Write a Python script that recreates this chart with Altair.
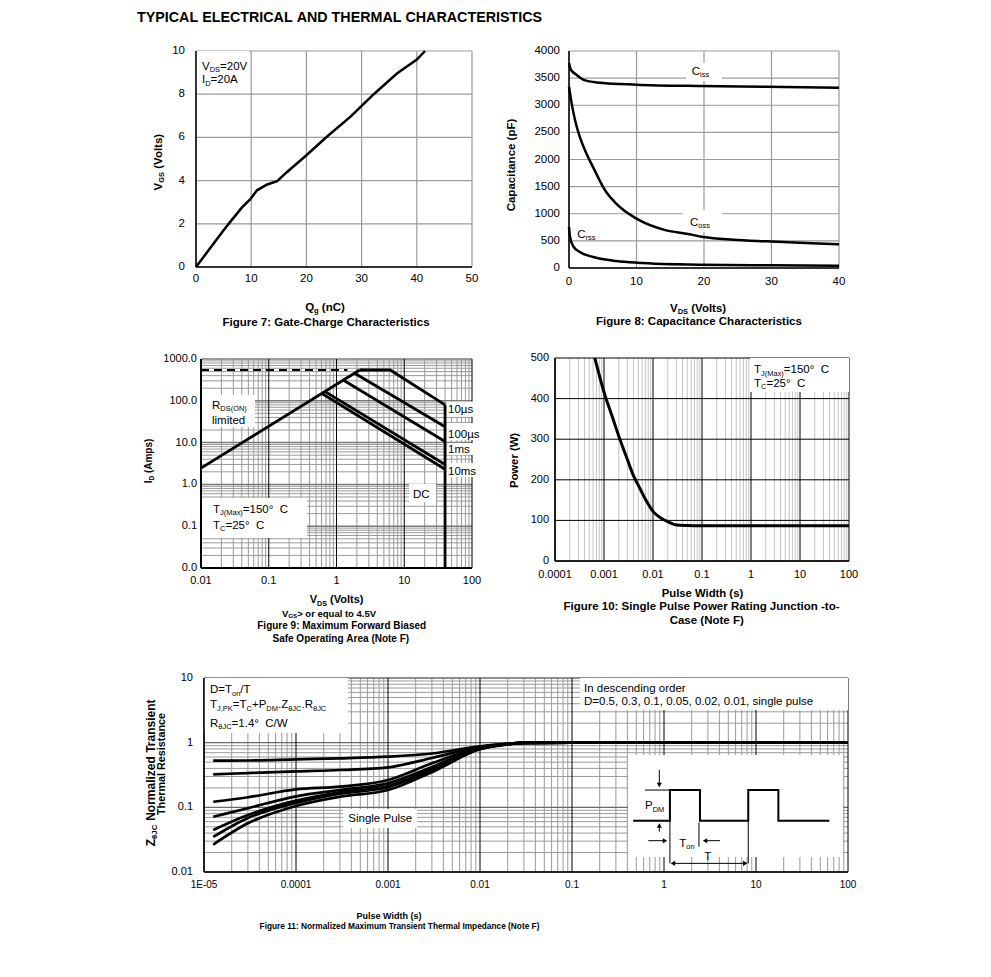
import re
import altair as alt
import pandas as pd

FONT = "Liberation Sans"
G = 8  # page margin: drawing origin is at page (8, 8)

# ---------------- Figure 7: gate charge ----------------
qg_nc = [0, 5.0, 6.2, 8.3, 9.84, 11.05, 12.9, 14.7, 16.5, 19.9, 23.7, 28.0, 32.2, 36.4, 40.0, 41.5]
vgs_v = [0, 1.7, 2.09, 2.75, 3.14, 3.55, 3.82, 3.97, 4.4, 5.15, 6.03, 6.96, 8.0, 8.96, 9.6, 10.0]
fig7_x_ticks = [0, 10, 20, 30, 40, 50]
fig7_y_ticks = [0, 2, 4, 6, 8, 10]

# ---------------- Figure 8: capacitance ----------------
ciss_vds = [0, 0.2, 0.5, 0.9, 2.1, 3, 4.6, 10, 19.4, 29.2, 40]
ciss_pf = [3780, 3680, 3620, 3582, 3471, 3440, 3416, 3380, 3355, 3342, 3324]
coss_vds = [0, 0.2, 0.4, 0.9, 1.6, 2.6, 3.6, 4.6, 5.1, 7, 10, 14.4, 17.4, 19.9, 24.3, 29.2, 35, 40]
coss_pf = [3340, 3180, 3030, 2722, 2415, 2107, 1850, 1600, 1480, 1186, 909, 694, 633, 571, 522, 491, 460, 436]
crss_vds = [0, 0.15, 0.64, 1.6, 3.6, 7, 10, 19.4, 30, 40]
crss_pf = [756, 571, 400, 295, 203, 129, 98, 61, 50, 43]
fig8_x_ticks = [0, 10, 20, 30, 40]
fig8_y_ticks = [0, 500, 1000, 1500, 2000, 2500, 3000, 3500, 4000]

# ---------------- Figure 9: safe operating area ----------------
rds_v, rds_i = [0.01, 2.2], [2.45, 546]
us10_v, us10_i = [2.2, 6.2, 40], [546, 546, 80]
us100_v, us100_i = [1.85, 40], [455, 24]
ms1_v, ms1_i = [1.27, 40], [311, 10.6]
ms10_v, ms10_i = [0.68, 40], [166, 3.0]
dc_v, dc_i = [0.61, 40], [149, 2.3]
vmax_v, vmax_i = [40, 40], [80, 0.01]
pkg_v, pkg_i = [0.01, 1.45], [546, 546]
fig9_x_major = [0.01, 0.1, 1, 10, 100]
fig9_x_labels = ["0.01", "0.1", "1", "10", "100"]
fig9_y_major = [0.01, 0.1, 1, 10, 100, 1000]
fig9_y_labels = ["0.0", "0.1", "1.0", "10.0", "100.0", "1000.0"]

# ---------------- Figure 10: single pulse power ----------------
pw_s = [0.00065, 0.001, 0.0015, 0.00212, 0.003, 0.00397, 0.005, 0.007, 0.0102, 0.015, 0.02, 0.0304, 0.05, 0.1, 1, 10, 100]
power_w = [500, 416, 353, 299, 250, 211, 187, 152, 121, 104.6, 96.9, 88.5, 87.5, 87, 87, 87, 87]
fig10_x_major = [0.0001, 0.001, 0.01, 0.1, 1, 10, 100]
fig10_x_labels = ["0.0001", "0.001", "0.01", "0.1", "1", "10", "100"]
fig10_y_ticks = [0, 100, 200, 300, 400, 500]

# ---------------- Figure 11: transient thermal impedance ----------------
zt_s = [1.26e-5, 3e-5, 1e-4, 3e-4, 1e-3, 3e-3, 1e-2, 2e-2, 3e-2, 1e-1, 1, 10, 100]
z_d05 = [0.526, 0.53, 0.553, 0.573, 0.608, 0.68, 0.88, 0.97, 0.995, 1, 1, 1, 1]
z_d03 = [0.324, 0.339, 0.36, 0.378, 0.416, 0.58, 0.86, 0.96, 0.995, 1, 1, 1, 1]
z_d01 = [0.122, 0.143, 0.19, 0.209, 0.265, 0.48, 0.84, 0.96, 0.99, 1, 1, 1, 1]
z_d005 = [0.0716, 0.097, 0.148, 0.185, 0.235, 0.42, 0.82, 0.95, 0.99, 1, 1, 1, 1]
z_d002 = [0.0446, 0.076, 0.127, 0.171, 0.214, 0.39, 0.81, 0.95, 0.99, 1, 1, 1, 1]
z_d001 = [0.035, 0.0685, 0.117, 0.163, 0.205, 0.37, 0.80, 0.95, 0.99, 1, 1, 1, 1]
z_single = [0.0266, 0.0566, 0.105, 0.146, 0.185, 0.35, 0.79, 0.94, 0.99, 1, 1, 1, 1]
fig11_x_major = [1e-5, 1e-4, 1e-3, 1e-2, 1e-1, 1, 10, 100]
fig11_x_labels = ["1E-05", "0.0001", "0.001", "0.01", "0.1", "1", "10", "100"]
fig11_y_major = [0.01, 0.1, 1, 10]
fig11_y_labels = ["0.01", "0.1", "1", "10"]
# inset pulse sketch (in axis units: seconds, normalized Z)
wave_s = [0.463, 1.16, 1.16, 2.46, 2.46, 8.24, 8.24, 17.5, 17.5, 62.7]
wave_z = [0.0621, 0.0621, 0.185, 0.185, 0.0621, 0.0621, 0.185, 0.185, 0.0621, 0.0621]
thin_s = [[0.621, 1.16], [1.16, 1.16], [2.40, 2.40], [8.24, 8.24], [0.889, 0.889], [0.889, 0.889],
          [0.676, 1.026], [4.06, 2.79], [1.25, 7.64]]
thin_z = [[0.185, 0.185], [0.0621, 0.0136], [0.058, 0.0246], [0.0621, 0.0136], [0.378, 0.221], [0.042, 0.0524],
          [0.0305, 0.0305], [0.0305, 0.0305], [0.0136, 0.0136]]
head_s = [0.889, 0.889, 1.026, 2.79, 1.25, 7.64]
head_z = [0.221, 0.0524, 0.0305, 0.0305, 0.0136, 0.0136]
head_shape = ["triangle-down", "triangle-up", "triangle-right", "triangle-left", "triangle-left", "triangle-right"]


def decades(lo, hi):
    return [k * 10.0 ** e for e in range(lo, hi) for k in range(2, 10)]


# ---------------- text helpers (Arial / Liberation metrics) ----------------
UP = "ABCDEFGHIJKLMNOPQRSTUVWXYZ"
LO = "abcdefghijklmnopqrstuvwxyz"
REG = dict(zip(UP, [667, 667, 722, 722, 667, 611, 778, 722, 278, 500, 667, 556, 833, 722, 778, 667, 778, 722, 667, 611, 722, 667, 944, 667, 667, 611]))
REG.update(zip(LO, [556, 556, 500, 556, 556, 278, 556, 556, 222, 222, 500, 222, 833, 556, 556, 556, 556, 333, 500, 278, 556, 500, 722, 500, 500, 500]))
REG.update({' ': 278, '(': 333, ')': 333, '+': 584, ',': 278, '-': 333, '.': 278, '/': 278, ':': 278,
            '=': 584, '>': 584, '°': 400, 'θ': 556, 'µ': 576})
BOLD = dict(zip(UP, [722, 722, 722, 722, 667, 611, 778, 722, 278, 556, 722, 611, 833, 722, 778, 667, 778, 722, 667, 611, 722, 667, 944, 667, 667, 611]))
BOLD.update(zip(LO, [556, 611, 556, 611, 556, 333, 611, 611, 278, 278, 556, 278, 889, 611, 611, 611, 611, 389, 556, 333, 611, 556, 778, 556, 556, 500]))
BOLD.update({' ': 278, '(': 333, ')': 333, '+': 584, ',': 278, '-': 333, '.': 278, '/': 278, ':': 333,
             '=': 584, '>': 584, '°': 400, 'θ': 611, 'µ': 611})


def tw(s, size, bold):
    tab = BOLD if bold else REG
    return sum(tab.get(c, 556) for c in s) * size / 1000.0


def parse(s):
    out = []
    for m in re.finditer(r'_\{([^}]*)\}|([^_]+)', s):
        if m.group(1) is not None:
            out.append((m.group(1), True))
        else:
            out.append((m.group(2), False))
    return out


TEXT_ROWS = []


def rich(markup, x, y, size, bold=False, angle=0, anchor="start", subshift=0.2):
    specs = []
    for txt, sub in parse(markup):
        fs = size * 0.65 if sub else size
        core = txt.strip(" ")
        lead = len(txt) - len(txt.lstrip(" "))
        trail = len(txt) - len(txt.rstrip(" "))
        specs.append((core.replace(" ", "\u00a0"), fs, size * subshift if sub else 0.0,
                      tw(" " * lead, fs, bold), tw(core, fs, bold), tw(" " * trail, fs, bold)))
    total = sum(s[3] + s[4] + s[5] for s in specs)
    off = {"start": 0.0, "middle": -total / 2.0, "end": -total}[anchor]
    for core, fs, shift, lw, cw, trw in specs:
        off += lw
        if core:
            if angle == 0:
                px, py = x + off, y + shift
            else:
                px, py = x + shift, y - off
            TEXT_ROWS.append(dict(x=round(px - G, 2), y=round(py - G, 2), text=core, size=round(fs, 2),
                                  bold=bold, angle=angle))
        off += cw + trw


def text_layers():
    combos = []
    for r in TEXT_ROWS:
        k = (r["bold"], r["angle"])
        if k not in combos:
            combos.append(k)
    out = []
    for b, a in combos:
        sub = [dict(x=r["x"], y=r["y"], text=r["text"], size=r["size"]) for r in TEXT_ROWS
               if (r["bold"], r["angle"]) == (b, a)]
        out.append(alt.Chart(pd.DataFrame(sub)).mark_text(
            align="left", baseline="alphabetic", font=FONT, fontWeight="bold" if b else "normal",
            angle=int(a), color="black").encode(
            x=alt.X("x:Q", scale=None, axis=None),
            y=alt.Y("y:Q", scale=None, axis=None),
            text="text:N",
            size=alt.Size("size:Q", scale=None, legend=None)))
    return out


def boxes(bxs):
    df = pd.DataFrame([dict(x0=b[0] - G, x1=b[1] - G, y0=b[2] - G, y1=b[3] - G) for b in bxs])
    return alt.Chart(df).mark_rect(color="white").encode(
        x=alt.X("x0:Q", scale=None, axis=None), x2="x1:Q",
        y=alt.Y("y0:Q", scale=None, axis=None), y2="y1:Q")


def lin(domain, r0, r1):
    return alt.Scale(domain=domain, range=[r0 - G, r1 - G], nice=False, zero=False)


def logs(domain, r0, r1):
    return alt.Scale(type="log", domain=domain, range=[r0 - G, r1 - G], nice=False)


def vgrid(vals, xs, y0, y1, color, width):
    return alt.Chart(pd.DataFrame({"v": vals})).mark_rule(color=color, strokeWidth=width).encode(
        x=alt.X("v:Q", scale=xs, axis=None), y=alt.value(y0 - G), y2=alt.value(y1 - G))


def hgrid(vals, ys, x0, x1, color, width):
    return alt.Chart(pd.DataFrame({"v": vals})).mark_rule(color=color, strokeWidth=width).encode(
        y=alt.Y("v:Q", scale=ys, axis=None), x=alt.value(x0 - G), x2=alt.value(x1 - G))


def frame(x0, x1, y0, y1, width=1.5):
    df = pd.DataFrame([dict(a=x0 - G, b=x0 - G, c=y0 - G, d=y1 - G), dict(a=x0 - G, b=x1 - G, c=y1 - G, d=y1 - G)])
    return alt.Chart(df).mark_rule(color="black", strokeWidth=width).encode(
        x=alt.X("a:Q", scale=None, axis=None), x2="b:Q",
        y=alt.Y("c:Q", scale=None, axis=None), y2="d:Q")


def xlabels(vals, labels, xs, ybase, size):
    return alt.Chart(pd.DataFrame({"v": vals, "t": labels})).mark_text(
        align="center", baseline="alphabetic", font=FONT, fontSize=size, color="black").encode(
        x=alt.X("v:Q", scale=xs, axis=None), y=alt.value(ybase - G), text="t:N")


def ylabels(vals, labels, ys, xright, size):
    return alt.Chart(pd.DataFrame({"v": vals, "t": labels})).mark_text(
        align="right", baseline="middle", font=FONT, fontSize=size, color="black").encode(
        y=alt.Y("v:Q", scale=ys, axis=None), x=alt.value(xright - G), text="t:N")


def series_df(series):
    recs = []
    for name, xs, ys in series:
        for i, (a, b) in enumerate(zip(xs, ys)):
            recs.append(dict(s=name, o=i, x=a, y=b))
    return pd.DataFrame(recs)


def lines(df, xs, ys, width, **mk):
    return alt.Chart(df).mark_line(color="black", strokeWidth=width, **mk).encode(
        x=alt.X("x:Q", scale=xs, axis=None), y=alt.Y("y:Q", scale=ys, axis=None),
        detail="s:N", order="o:Q")


layers = []

# ================= Figure 7 =================
L7, R7, T7, B7 = 196, 472, 51, 267
X7 = lin([0, 50], L7, R7)
Y7 = lin([0, 10], B7, T7)
layers += [
    vgrid(fig7_x_ticks, X7, T7, B7, "#9a9a9a", 1.2),
    hgrid(fig7_y_ticks, Y7, L7, R7, "#9a9a9a", 1.2),
    boxes([(L7, 249, T7, 88)]),
    lines(series_df([("vgs", qg_nc, vgs_v)]), X7, Y7, 2.5),
    frame(L7, R7, T7, B7),
    xlabels(fig7_x_ticks, [str(v) for v in fig7_x_ticks], X7, 281.7, 11.5),
    ylabels(fig7_y_ticks, [str(v) for v in fig7_y_ticks], Y7, 185, 11.5),
]
rich("TYPICAL ELECTRICAL AND THERMAL CHARACTERISTICS", 137, 21.7, 14.3, bold=True)
rich("V_{GS} (Volts)", 161.5, 161.7, 11.5, bold=True, angle=270, anchor="middle")
rich("Q_{g} (nC)", 325, 310.5, 11.5, bold=True, anchor="middle")
rich("Figure 7: Gate-Charge Characteristics", 326, 325.5, 11.5, bold=True, anchor="middle")
rich("V_{DS}=20V", 202, 70, 11.5)
rich("I_{D}=20A", 202, 83.3, 11.5)

# ================= Figure 8 =================
L8, R8, T8, B8 = 569, 839, 51, 268
X8 = lin([0, 40], L8, R8)
Y8 = lin([0, 4000], B8, T8)
layers += [
    vgrid(fig8_x_ticks, X8, T8, B8, "#9a9a9a", 1.2),
    hgrid(fig8_y_ticks, Y8, L8, R8, "#9a9a9a", 1.2),
    boxes([(686, 722, 63, 81), (683, 722, 210, 232)]),
    lines(series_df([("Ciss", ciss_vds, ciss_pf), ("Coss", coss_vds, coss_pf), ("Crss", crss_vds, crss_pf)]),
          X8, Y8, 2.5, interpolate="monotone"),
    frame(L8, R8, T8, B8),
    xlabels(fig8_x_ticks, [str(v) for v in fig8_x_ticks], X8, 285, 11.5),
    ylabels(fig8_y_ticks, [str(v) for v in fig8_y_ticks], Y8, 560, 11.5),
]
rich("Capacitance (pF)", 515, 165, 11.5, bold=True, angle=270, anchor="middle")
rich("V_{DS} (Volts)", 698.5, 311.5, 11.5, bold=True, anchor="middle")
rich("Figure 8: Capacitance Characteristics", 699, 325, 11.5, bold=True, anchor="middle")
rich("C_{iss}", 691.7, 75, 11.5)
rich("C_{oss}", 690, 226, 11.5)
rich("C_{rss}", 577.3, 238, 11.5)

# ================= Figure 9 =================
L9, R9, T9, B9 = 201, 472, 359, 568
X9 = logs([0.01, 100], L9, R9)
Y9 = logs([0.01, 1000], B9, T9)
layers += [
    vgrid(decades(-2, 2), X9, T9, B9, "#9a9a9a", 1),
    hgrid(decades(-2, 3), Y9, L9, R9, "#9a9a9a", 1),
    hgrid(fig9_y_major, Y9, L9, R9, "#7a7a7a", 1.5),
    vgrid(fig9_x_major, X9, T9, B9, "black", 1),
    boxes([(L9, 255, 395, 427), (L9, 307, 498, 538), (409, 436, 484, 502),
           (446.7, 473, 401.7, 416.7), (446.7, 485, 423, 440), (446.7, 473, 443, 455),
           (446.7, 480, 463, 477)]),
    lines(series_df([("pkg", pkg_v, pkg_i)]), X9, Y9, 2, strokeDash=[8, 5]),
    lines(series_df([("rds", rds_v, rds_i), ("10us", us10_v, us10_i), ("100us", us100_v, us100_i),
                     ("1ms", ms1_v, ms1_i), ("10ms", ms10_v, ms10_i), ("dc", dc_v, dc_i),
                     ("vmax", vmax_v, vmax_i)]), X9, Y9, 2.8),
    frame(L9, R9, T9, B9, 2),
    xlabels(fig9_x_major, fig9_x_labels, X9, 584.3, 11),
    ylabels(fig9_y_major, fig9_y_labels, Y9, 197, 11),
]
rich("I_{D} (Amps)", 151.5, 461, 10, bold=True, angle=270, anchor="middle")
rich("V_{DS} (Volts)", 337, 603.3, 11, bold=True, anchor="middle")
rich("V_{GS}> or equal to 4.5V", 329, 616.5, 9.5, bold=True, anchor="middle")
rich("Figure 9: Maximum Forward Biased", 341.7, 629, 10, bold=True, anchor="middle")
rich("Safe Operating Area (Note F)", 340.8, 642, 10, bold=True, anchor="middle")
rich("R_{DS(ON)}", 212, 409, 11.5, subshift=0.15)
rich("limited", 212, 423.5, 11.5)
rich("T_{J(Max)}=150°  C", 213, 513, 11.5)
rich("T_{C}=25°  C", 213, 529, 11.5)
rich("DC", 413, 498, 11.5)
rich("10µs", 448, 413.3, 11.5)
rich("100µs", 448, 438.3, 11.5)
rich("1ms", 448, 453.3, 11.5)
rich("10ms", 448, 475, 11.5)

# ================= Figure 10 =================
L10, R10, T10, B10 = 555, 849, 358, 561
X10 = logs([0.0001, 100], L10, R10)
Y10 = lin([0, 500], B10, T10)
layers += [
    vgrid(decades(-4, 2), X10, T10, B10, "#c4c4c4", 1),
    vgrid(fig10_x_major, X10, T10, B10, "black", 1),
    hgrid(fig10_y_ticks, Y10, L10, R10, "black", 1),
    boxes([(750, R10, T10, 392)]),
    lines(series_df([("p", pw_s, power_w)]), X10, Y10, 3, interpolate="monotone"),
    frame(L10, R10, T10, B10),
    xlabels(fig10_x_major, fig10_x_labels, X10, 577.7, 11),
    ylabels(fig10_y_ticks, [str(v) for v in fig10_y_ticks], Y10, 549, 11),
]
rich("Power (W)", 518, 460.5, 11.3, bold=True, angle=270, anchor="middle")
rich("Pulse Width (s)", 702.5, 596.7, 11.3, bold=True, anchor="middle")
rich("Figure 10: Single Pulse Power Rating Junction -to-", 701.5, 610, 11.5, bold=True, anchor="middle")
rich("Case (Note F)", 706.7, 624, 11.5, bold=True, anchor="middle")
rich("T_{J(Max)}=150°  C", 754, 373.3, 11.5)
rich("T_{C}=25°  C", 754, 386.7, 11.5)

# ================= Figure 11 =================
L11, R11, T11, B11 = 204, 848, 678, 872
X11 = logs([1e-5, 100], L11, R11)
Y11 = logs([0.01, 10], B11, T11)
layers += [
    vgrid(decades(-5, 2), X11, T11, B11, "#9a9a9a", 1),
    hgrid(decades(-2, 1), Y11, L11, R11, "#9a9a9a", 1),
    hgrid(fig11_y_major, Y11, L11, R11, "#6a6a6a", 1.3),
    vgrid(fig11_x_major, X11, T11, B11, "black", 1),
    boxes([(L11, 348, T11, 733), (580, R11, T11, 710), (343, 417, 809, 828), (628, 843, 755, 857)]),
    lines(series_df([("0.5", zt_s, z_d05), ("0.3", zt_s, z_d03), ("0.1", zt_s, z_d01), ("0.05", zt_s, z_d005),
                     ("0.02", zt_s, z_d002), ("0.01", zt_s, z_d001), ("single", zt_s, z_single)]),
          X11, Y11, 2.7, interpolate="monotone"),
    lines(series_df([("wave", wave_s, wave_z)]), X11, Y11, 2),
    lines(series_df([(str(i), s, z) for i, (s, z) in enumerate(zip(thin_s, thin_z))]), X11, Y11, 1),
    alt.Chart(pd.DataFrame({"x": head_s, "y": head_z, "shape": head_shape})).mark_point(
        filled=True, color="black", size=26, opacity=1).encode(
        x=alt.X("x:Q", scale=X11, axis=None), y=alt.Y("y:Q", scale=Y11, axis=None),
        shape=alt.Shape("shape:N", scale=None, legend=None)),
    frame(L11, R11, T11, B11),
    xlabels(fig11_x_major, fig11_x_labels, X11, 888.3, 10),
    ylabels(fig11_y_major, fig11_y_labels, Y11, 193, 11),
]
rich("Z_{θJC} Normalized Transient", 154.5, 772.5, 12, bold=True, angle=270, anchor="middle")
rich("Thermal Resistance", 164.5, 764, 10.8, bold=True, angle=270, anchor="middle")
rich("Pulse Width (s)", 389, 919, 9, bold=True, anchor="middle")
rich("Figure 11: Normalized Maximum Transient Thermal Impedance (Note F)", 400, 929, 8.3,
     bold=True, anchor="middle")
rich("D=T_{on}/T", 210, 693.3, 11.5)
rich("T_{J,PK}=T_{C}+P_{DM}.Z_{θJC}.R_{θJC}", 210, 708.3, 11.5)
rich("R_{θJC}=1.4°  C/W", 210, 726.7, 11.5)
rich("In descending order", 584, 691.7, 11.5)
rich("D=0.5, 0.3, 0.1, 0.05, 0.02, 0.01, single pulse", 584, 704.5, 11.5)
rich("Single Pulse", 348.3, 822, 11.5)
rich("P_{DM}", 645, 809.3, 11.5)
rich("T_{on}", 679.3, 846.7, 11.5)
rich("T", 704.3, 860, 11.5)

layers += text_layers()

chart = alt.layer(*layers).resolve_scale(x="independent", y="independent").properties(
    width=975, height=932, padding=0, background="white",
    autosize=alt.AutoSizeParams(type="none"),
).configure_view(stroke=None)

chart.save("out.html", embed_options={"renderer": "svg", "actions": False})
